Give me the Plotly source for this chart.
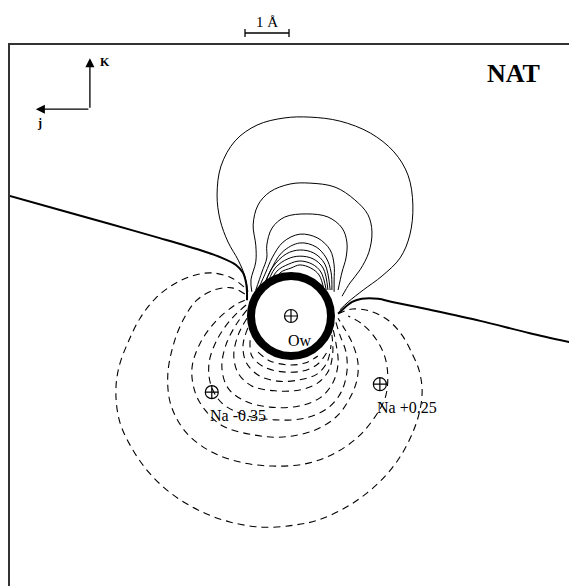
import plotly.graph_objects as go

# ---- map coordinates in Angstrom, origin at the water oxygen (Ow) ----
X_RANGE = [-6.386, 6.318]
Y_RANGE = [-6.136, 6.159]

SITE_NAMES = ["Ow", "Na -0.35", "Na +0.25"]
SITE_U = [0.0, -1.80, 2.02]
SITE_V = [0.0, -1.73, -1.55]

# zero-potential contour (thick)
ZERO_L_U = [-6.39, -5.25, -4.11, -2.98, -2.07, -1.57, -1.25, -1.09, -1.02, -1.0, -1.0]
ZERO_L_V = [2.73, 2.41, 2.09, 1.77, 1.50, 1.32, 1.16, 0.98, 0.75, 0.55, 0.36]
ZERO_R_U = [1.07, 1.23, 1.39, 1.61, 1.98, 2.30, 3.16, 4.30, 5.43, 6.32]
ZERO_R_V = [0.05, 0.20, 0.32, 0.39, 0.39, 0.32, 0.14, -0.11, -0.39, -0.59]

# positive contours (solid)
P1_U = [-0.98, -1.05, -1.20, -1.43, -1.61, -1.68, -1.59, -1.27, -0.77, -0.16, 0.43, 1.11, 1.80, 2.34, 2.66, 2.77, 2.70, 2.48, 2.07, 1.64, 1.30, 1.11]
P1_V = [0.55, 0.91, 1.27, 1.68, 2.18, 2.75, 3.41, 3.98, 4.34, 4.50, 4.52, 4.43, 4.16, 3.73, 3.20, 2.52, 1.84, 1.32, 0.91, 0.59, 0.32, 0.14]
P2_U = [-0.89, -0.91, -0.80, -0.80, -0.86, -0.75, -0.48, -0.02, 0.43, 1.00, 1.45, 1.75, 1.84, 1.77, 1.57, 1.34, 1.16]
P2_V = [0.55, 0.82, 1.23, 1.61, 2.07, 2.52, 2.82, 3.00, 3.02, 2.93, 2.64, 2.30, 1.91, 1.45, 1.05, 0.75, 0.45]
P3_U = [-0.80, -0.66, -0.55, -0.55, -0.43, -0.14, 0.36, 0.84, 1.16, 1.27, 1.25, 1.16, 1.07]
P3_V = [0.59, 1.00, 1.32, 1.61, 2.00, 2.25, 2.32, 2.25, 2.00, 1.68, 1.32, 1.00, 0.59]
P4_U = [-0.73, -0.57, -0.43, -0.18, 0.20, 0.61, 0.89, 0.98, 0.98, 0.98]
P4_V = [0.64, 1.00, 1.32, 1.68, 1.86, 1.77, 1.50, 1.16, 0.82, 0.55]
P5_U = [-0.66, -0.48, -0.20, 0.20, 0.57, 0.80, 0.91, 0.93]
P5_V = [0.59, 1.00, 1.45, 1.66, 1.57, 1.32, 1.00, 0.59]
P6_U = [-0.64, -0.43, -0.11, 0.20, 0.52, 0.77, 0.89]
P6_V = [0.59, 1.09, 1.41, 1.50, 1.43, 1.18, 0.59]
P7_U = [-0.59, -0.36, -0.07, 0.20, 0.50, 0.73, 0.84]
P7_V = [0.59, 1.09, 1.30, 1.36, 1.30, 1.09, 0.59]
P8_U = [-0.55, -0.32, -0.05, 0.20, 0.48, 0.68, 0.80]
P8_V = [0.59, 1.02, 1.18, 1.25, 1.18, 1.00, 0.59]
P9_U = [-0.48, -0.25, 0.00, 0.20, 0.45, 0.64, 0.75]
P9_V = [0.59, 0.98, 1.09, 1.16, 1.09, 0.93, 0.59]

# negative contours (dashed)
N1_U = [-1.07, -1.34, -1.80, -2.25, -2.70, -3.09, -3.43, -3.70, -3.91, -3.98, -3.89, -3.59, -3.20, -2.70, -2.07, -1.39, -0.64, 0.09, 0.61, 1.23, 1.73, 2.14, 2.48, 2.77, 2.93, 2.98, 2.91, 2.77, 2.52, 2.20, 1.80, 1.39, 1.11]
N1_V = [0.66, 0.86, 0.98, 0.91, 0.70, 0.39, -0.05, -0.59, -1.16, -1.73, -2.41, -3.05, -3.59, -4.05, -4.43, -4.68, -4.80, -4.75, -4.64, -4.36, -4.02, -3.64, -3.20, -2.64, -2.14, -1.68, -1.23, -0.89, -0.43, -0.09, 0.11, 0.16, 0.07]
N2_U = [-1.05, -1.34, -1.75, -2.14, -2.43, -2.66, -2.80, -2.73, -2.39, -1.84, -1.16, -0.43, 0.32, 0.95, 1.50, 1.89, 2.14, 2.20, 2.14, 1.95, 1.64, 1.30]
N2_V = [0.50, 0.64, 0.59, 0.36, -0.05, -0.61, -1.34, -2.02, -2.64, -3.07, -3.32, -3.41, -3.36, -3.14, -2.77, -2.32, -1.86, -1.41, -0.95, -0.55, -0.20, 0.00]
N3_U = [-1.05, -1.27, -1.68, -2.05, -2.25, -2.18, -1.95, -1.55, -0.86, -0.18, 0.55, 1.05, 1.34, 1.50, 1.52, 1.39, 1.18, 1.07]
N3_V = [0.36, 0.25, -0.09, -0.59, -1.18, -1.73, -2.14, -2.50, -2.70, -2.75, -2.59, -2.27, -1.86, -1.45, -1.05, -0.61, -0.23, -0.05]
N4_U = [-1.02, -1.34, -1.66, -1.86, -1.82, -1.57, -1.05, -0.36, 0.32, 0.84, 1.14, 1.27, 1.25, 1.11, 1.02]
N4_V = [0.25, -0.05, -0.50, -1.05, -1.57, -1.98, -2.25, -2.36, -2.32, -2.09, -1.73, -1.27, -0.82, -0.43, -0.14]
N5_U = [-1.00, -1.25, -1.48, -1.57, -1.43, -1.05, -0.48, 0.16, 0.66, 0.95, 1.07, 1.02, 0.95]
N5_V = [0.14, -0.20, -0.66, -1.18, -1.64, -1.93, -2.07, -2.05, -1.86, -1.52, -1.07, -0.61, -0.27]
N6_U = [-1.00, -1.20, -1.30, -1.20, -0.89, -0.36, 0.20, 0.61, 0.86, 0.95, 0.93]
N6_V = [-0.05, -0.43, -0.89, -1.30, -1.59, -1.70, -1.68, -1.52, -1.23, -0.82, -0.43]
N7_U = [-0.98, -1.09, -1.02, -0.75, -0.30, 0.20, 0.59, 0.82, 0.91]
N7_V = [-0.27, -0.66, -1.05, -1.34, -1.48, -1.45, -1.32, -1.05, -0.66]
N8_U = [-0.93, -0.89, -0.61, -0.18, 0.27, 0.61, 0.82]
N8_V = [-0.55, -0.91, -1.16, -1.27, -1.25, -1.09, -0.82]
N9_U = [-0.75, -0.48, -0.07, 0.32, 0.61]
N9_V = [-0.82, -1.02, -1.11, -1.07, -0.91]

# 1 Angstrom scale bar (j extent)
SCALE_U = [-1.045, -0.045]
SCALE_LABEL = "1 Å"

POSITIVE = [(P1_U, P1_V), (P2_U, P2_V), (P3_U, P3_V), (P4_U, P4_V), (P5_U, P5_V),
            (P6_U, P6_V), (P7_U, P7_V), (P8_U, P8_V), (P9_U, P9_V)]
NEGATIVE = [(N1_U, N1_V), (N2_U, N2_V), (N3_U, N3_V), (N4_U, N4_V), (N5_U, N5_V),
            (N6_U, N6_V), (N7_U, N7_V), (N8_U, N8_V), (N9_U, N9_V)]

fig = go.Figure()

for u, v in NEGATIVE:
    fig.add_trace(go.Scatter(x=u, y=v, mode="lines",
                             line=dict(color="black", width=1.1, dash="7px,5px",
                                       shape="spline", smoothing=1.0),
                             hoverinfo="skip"))
for u, v in POSITIVE:
    fig.add_trace(go.Scatter(x=u, y=v, mode="lines",
                             line=dict(color="black", width=1.0, shape="spline", smoothing=1.0),
                             hoverinfo="skip"))
for u, v in [(ZERO_L_U, ZERO_L_V), (ZERO_R_U, ZERO_R_V)]:
    fig.add_trace(go.Scatter(x=u, y=v, mode="lines",
                             line=dict(color="black", width=2.0, shape="spline", smoothing=0.8),
                             hoverinfo="skip"))

# excluded core around Ow (white disk with dense black ring)
fig.add_trace(go.Scatter(x=[SITE_U[0]], y=[SITE_V[0]], mode="markers",
                         marker=dict(symbol="circle", size=80, color="white",
                                     line=dict(color="black", width=8)),
                         hoverinfo="skip"))
# atom sites
fig.add_trace(go.Scatter(x=SITE_U, y=SITE_V, mode="markers",
                         marker=dict(symbol="circle-cross-open", size=13, color="black",
                                     line=dict(color="black", width=1.2)),
                         hoverinfo="skip"))

serif = "Liberation Serif, Times New Roman, serif"

# scale bar above the frame
shapes = [
    dict(type="line", xref="x", yref="paper", x0=SCALE_U[0], x1=SCALE_U[1],
         y0=1.0222, y1=1.0222, line=dict(color="black", width=1.3)),
    dict(type="line", xref="x", yref="paper", x0=SCALE_U[0], x1=SCALE_U[0],
         y0=1.0148, y1=1.0296, line=dict(color="black", width=1.3)),
    dict(type="line", xref="x", yref="paper", x0=SCALE_U[1], x1=SCALE_U[1],
         y0=1.0148, y1=1.0296, line=dict(color="black", width=1.3)),
]

ann = []
ann.append(dict(x=0.2, y=-0.55, text=SITE_NAMES[0], showarrow=False,
                font=dict(family=serif, size=16, color="black")))
ann.append(dict(x=-1.2, y=-2.25, text=SITE_NAMES[1], showarrow=False,
                font=dict(family=serif, size=16, color="black")))
ann.append(dict(x=2.64, y=-2.07, text=SITE_NAMES[2], showarrow=False,
                font=dict(family=serif, size=16, color="black")))
ann.append(dict(x=(SCALE_U[0] + SCALE_U[1]) / 2, xref="x", y=1.043, yref="paper",
                yanchor="middle", text=SCALE_LABEL, showarrow=False,
                font=dict(family=serif, size=15, color="black")))
ann.append(dict(x=5.05, y=5.52, text="<b>NAT</b>", showarrow=False,
                font=dict(family=serif, size=26, color="black")))
# axis arrows K and j
ann.append(dict(x=-4.57, y=5.86, ax=-4.57, ay=4.70, axref="x", ayref="y",
                text="", showarrow=True, arrowhead=2, arrowsize=1.4, arrowwidth=1.3,
                arrowcolor="black"))
ann.append(dict(x=-5.80, y=4.70, ax=-4.57, ay=4.70, axref="x", ayref="y",
                text="", showarrow=True, arrowhead=2, arrowsize=1.4, arrowwidth=1.3,
                arrowcolor="black"))
ann.append(dict(x=-4.22, y=5.78, text="<b>K</b>", showarrow=False,
                font=dict(family=serif, size=12, color="black")))
ann.append(dict(x=-5.72, y=4.38, text="<b>j</b>", showarrow=False,
                font=dict(family=serif, size=12, color="black")))

fig.update_layout(
    width=569, height=586,
    margin=dict(l=10, r=0, t=45, b=0, pad=0),
    paper_bgcolor="white", plot_bgcolor="white",
    showlegend=False,
    annotations=ann,
    shapes=shapes,
    xaxis=dict(range=X_RANGE, side="top", showline=True, linecolor="#333", linewidth=1.5,
               showgrid=False, zeroline=False, showticklabels=False, ticks=""),
    yaxis=dict(range=Y_RANGE, showline=True, linecolor="#333", linewidth=1.5,
               showgrid=False, zeroline=False, showticklabels=False, ticks=""),
)

fig.write_html("out.html", config={"displayModeBar": False},
               post_script="document.body.style.margin='0';")
